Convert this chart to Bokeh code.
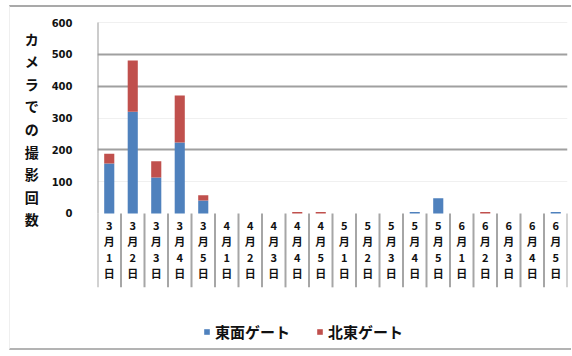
from bokeh.plotting import figure
from bokeh.models import (ColumnDataSource, FactorRange, Range1d, FixedTicker,
                          Grid)
from bokeh.core.properties import value
from bokeh.embed import file_html
from bokeh.resources import INLINE

# Survey days (category axis), shown as stacked vertical text
categories = ["3月1日", "3月2日", "3月3日", "3月4日", "3月5日",
              "4月1日", "4月2日", "4月3日", "4月4日", "4月5日",
              "5月1日", "5月2日", "5月3日", "5月4日", "5月5日",
              "6月1日", "6月2日", "6月3日", "6月4日", "6月5日"]

# Camera shot counts per gate
series_names = ["東面ゲート", "北東ゲート"]
east_gate = [157, 320, 113, 223, 41, 0, 0, 0, 0, 0,
             0, 0, 0, 5, 48, 0, 0, 0, 0, 5]
northeast_gate = [31, 161, 51, 148, 16, 0, 0, 0, 5, 5,
                  0, 0, 0, 0, 0, 0, 5, 0, 0, 0]

y_ticks = [0, 100, 200, 300, 400, 500, 600]
y_title = "カメラでの撮影回数"

BLUE = "#4F81BD"
RED = "#C0504D"
JP_FONT = "Noto Sans CJK JP"

src = ColumnDataSource(dict(
    cat=categories,
    east=east_gate,
    ne=northeast_gate,
    label=["\n".join(c) for c in categories],
))

p = figure(x_range=FactorRange(*categories),
           y_range=Range1d(-430.4, 606.3),
           width=562, height=345,
           x_axis_location=None,
           min_border_left=87, min_border_right=5,
           min_border_top=13, min_border_bottom=2,
           output_backend="svg", toolbar_location=None)
p.outline_line_color = None
p.background_fill_color = "white"
p.border_fill_color = "white"
p.styles = {"margin-left": "9px", "margin-top": "5px",
            "border-top": "2px solid #a9a9a9",
            "border-left": "1px solid #efefef",
            "border-bottom": "2px solid #b3b3b3"}

# gridlines
p.xgrid.visible = False
p.ygrid.ticker = FixedTicker(ticks=[200, 400, 500])
p.ygrid.grid_line_color = "#a0a0a0"
p.ygrid.grid_line_width = 2
p.add_layout(Grid(dimension=1, ticker=FixedTicker(ticks=[100, 300, 600]),
                  grid_line_color="#f0f0f0", grid_line_width=1))

# value axis; its title is a vertical column of upright characters,
# padded below so that the column sits level with the value scale
p.yaxis.ticker = FixedTicker(ticks=y_ticks)
p.yaxis.axis_line_color = None
p.yaxis.major_tick_line_color = None
p.yaxis.minor_tick_line_color = None
p.yaxis.major_label_standoff = 19
p.yaxis.major_label_text_font = "DejaVu Sans"
p.yaxis.major_label_text_font_size = "10px"
p.yaxis.major_label_text_font_style = "bold"
p.yaxis.major_label_text_color = "#111111"
p.yaxis.axis_label = "\n".join(y_title) + "\n" * 5
p.yaxis.axis_label_orientation = "horizontal"
p.yaxis.axis_label_align = "center"
p.yaxis.axis_label_standoff = 10
p.yaxis.axis_label_text_font = JP_FONT
p.yaxis.axis_label_text_font_size = "14px"
p.yaxis.axis_label_text_font_style = "bold"
p.yaxis.axis_label_text_line_height = 1.13
p.yaxis.axis_label_text_color = "#111111"

# axis line and category separators
n = len(categories)
bounds = list(range(n + 1))
p.segment(x0=[0], y0=[y_ticks[0]], x1=[0], y1=[y_ticks[-1]],
          line_color="#9a9a9a", line_width=2)
p.segment(x0=bounds, y0=[0] * (n + 1), x1=bounds, y1=[-232] * (n + 1),
          line_color="#a6a6a6", line_width=2)

# stacked bars
p.vbar_stack(["east", "ne"], x="cat", width=0.43, source=src,
             color=[BLUE, RED], line_color=None,
             legend_label=series_names)

# category labels
p.text(x="cat", y=-11, text="label", source=src,
       text_align="center", text_baseline="top",
       text_font=value(JP_FONT), text_font_size="11px",
       text_font_style="bold", text_line_height=1.0, text_color="#111111")

leg = p.legend[0]
leg.orientation = "horizontal"
leg.location = (106, 8)
leg.padding = 0
leg.margin = 0
leg.spacing = 26
leg.glyph_width = 7
leg.glyph_height = 7
leg.label_standoff = 5
leg.border_line_color = None
leg.background_fill_alpha = 0
leg.label_text_font = JP_FONT
leg.label_text_font_size = "15px"
leg.label_text_font_style = "bold"
leg.label_text_color = "#111111"

open("out.html", "w").write(file_html(p, INLINE))
